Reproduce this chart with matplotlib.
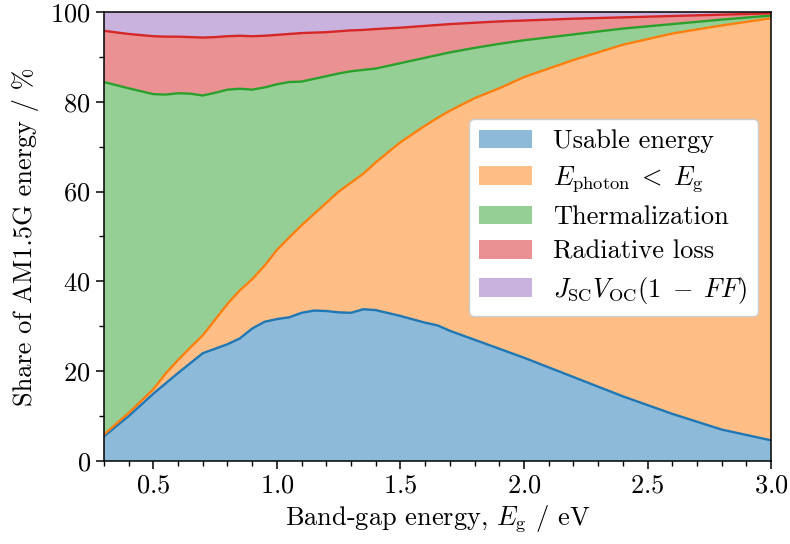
import numpy as np
import matplotlib
matplotlib.use("Agg")
import matplotlib.pyplot as plt
from matplotlib.ticker import MultipleLocator

plt.rcParams['font.family'] = 'serif'
plt.rcParams['font.serif'] = ['cmr10']
plt.rcParams['mathtext.fontset'] = 'cm'
plt.rcParams['axes.formatter.use_mathtext'] = True
plt.rcParams['font.size'] = 19

# band-gap energies (eV)
e_gap = [0.3, 0.4, 0.5, 0.55, 0.6, 0.65, 0.7, 0.75, 0.8, 0.85, 0.9, 0.95,
         1.0, 1.05, 1.1, 1.15, 1.2, 1.25, 1.3, 1.35, 1.4, 1.5, 1.6, 1.65,
         1.7, 1.8, 1.9, 2.0, 2.2, 2.4, 2.6, 2.8, 3.0]

# upper edge of each stacked band (%)
top_usable = [5.5, 10.0, 15.0, 17.3, 19.6, 21.8, 24.0, 25.0, 26.0, 27.3, 29.5, 31.0,
              31.6, 32.0, 33.0, 33.5, 33.4, 33.1, 33.0, 33.8, 33.6, 32.3, 30.8, 30.2,
              29.0, 27.0, 25.0, 23.0, 18.7, 14.4, 10.5, 7.0, 4.6]
top_below_gap = [5.9, 10.7, 16.0, 19.5, 22.5, 25.3, 28.0, 31.5, 35.0, 38.0, 40.5, 43.5,
                 47.0, 49.8, 52.5, 55.0, 57.5, 60.0, 62.0, 64.0, 66.5, 71.0, 74.7, 76.4,
                 78.0, 80.8, 83.0, 85.5, 89.3, 92.7, 95.2, 97.0, 98.6]
top_thermal = [84.4, 83.0, 81.7, 81.6, 81.9, 81.8, 81.4, 82.0, 82.7, 82.9, 82.7, 83.2,
               83.9, 84.4, 84.5, 85.1, 85.7, 86.3, 86.8, 87.1, 87.4, 88.6, 89.8, 90.4,
               91.0, 92.0, 92.9, 93.7, 95.0, 96.3, 97.3, 98.3, 99.2]
top_radiative = [95.8, 95.1, 94.6, 94.5, 94.5, 94.4, 94.3, 94.4, 94.6, 94.7, 94.6, 94.7,
                 94.9, 95.1, 95.3, 95.4, 95.5, 95.7, 95.9, 96.0, 96.2, 96.5, 96.9, 97.1,
                 97.3, 97.6, 97.9, 98.1, 98.5, 98.8, 99.1, 99.4, 99.7]
top_ff = [100.0] * len(e_gap)

labels = ['Usable energy',
          r'$E_\mathrm{photon} \;<\; E_\mathrm{g}$',
          'Thermalization',
          'Radiative loss',
          r'$J_\mathrm{SC}V_\mathrm{OC}(1 \;-\; FF)$']
colors = ['tab:blue', 'tab:orange', 'tab:green', 'tab:red', 'tab:purple']

tops = np.array([top_usable, top_below_gap, top_thermal, top_radiative, top_ff])
shares = np.diff(np.vstack([np.zeros(len(e_gap)), tops]), axis=0)

fig = plt.figure(figsize=(7.9, 5.44), dpi=100)
ax = fig.add_axes([0.1316, 0.1526, 0.8444, 0.8254])

ax.stackplot(e_gap, shares, labels=labels, colors=colors, alpha=0.5, lw=0)
# outline of every band
for top, c in zip(tops[:4], colors[:4]):
    ax.plot(e_gap, top, color=c, lw=1.7)

ax.set_xlim(0.3, 3.0)
ax.set_ylim(0, 100)
ax.xaxis.set_major_locator(MultipleLocator(0.5))
ax.xaxis.set_minor_locator(MultipleLocator(0.1))
ax.yaxis.set_major_locator(MultipleLocator(20))
ax.yaxis.set_minor_locator(MultipleLocator(10))
ax.tick_params(which='major', length=6, width=1.1)
ax.tick_params(which='minor', length=3.5, width=1.0)
for s in ax.spines.values():
    s.set_linewidth(1.1)

ax.set_xlabel(r'Band-gap energy, $E_\mathrm{g}$ / eV')
ax.set_ylabel('Share of AM1.5G energy / %', labelpad=8)

ax.legend(loc='center right', bbox_to_anchor=(1.0, 0.542), framealpha=1,
          edgecolor='#cccccc', fontsize=19, labelspacing=0.42)

fig.savefig('out.png', dpi=100)
